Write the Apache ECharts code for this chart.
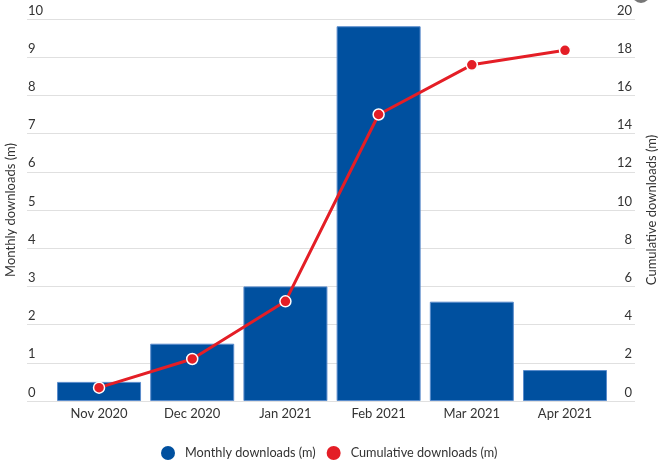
<!DOCTYPE html>
<html>
<head>
<meta charset="utf-8">
<script src="https://cdn.jsdelivr.net/npm/echarts@6/dist/echarts.min.js"></script>
<style>html,body{margin:0;padding:0;background:#fff}#c{width:671px;height:468px}</style>
</head>
<body>
<div id="c"></div>
<script>
const categories = ['Nov 2020', 'Dec 2020', 'Jan 2021', 'Feb 2021', 'Mar 2021', 'Apr 2021'];
const monthly = [0.5, 1.5, 3.0, 9.81, 2.6, 0.81];
const cumulative = [0.7, 2.2, 5.22, 15.0, 17.6, 18.36];
const leftTicks = [0, 1, 2, 3, 4, 5, 6, 7, 8, 9, 10];
const rightTicks = [0, 2, 4, 6, 8, 10, 12, 14, 16, 18, 20];

const chart = echarts.init(document.getElementById('c'), null, {renderer: 'canvas'});
const font = 'Lato, "Open Sans", sans-serif';
const idx = categories.map((_, i) => i);
chart.setOption({
  animation: false,
  textStyle: {fontFamily: font},
  grid: {left: 27, right: 36, top: 19, bottom: 67, containLabel: false, outerBoundsMode: 'none'},
  legend: {
    left: 156, bottom: 3, icon: 'circle', itemWidth: 14, itemHeight: 14, itemGap: 11,
    itemStyle: {borderWidth: 0},
    textStyle: {fontFamily: font, fontSize: 12.7, color: '#333', padding: [0, 0, 0, 5]},
    data: ['Monthly downloads (m)', 'Cumulative downloads (m)']
  },
  graphic: [{type: 'circle', shape: {cx: 641, cy: -6, r: 9}, style: {fill: '#777'}}],
  xAxis: {
    type: 'value', min: -0.773, max: 5.751,
    axisLine: {show: false}, axisTick: {show: false}, splitLine: {show: false},
    axisLabel: {
      customValues: idx, margin: 6, fontSize: 13, color: '#333', fontFamily: font,
      formatter: v => categories[Math.round(v)]
    }
  },
  yAxis: [{
    type: 'value', min: 0, max: 10, interval: 1,
    name: 'Monthly downloads (m)', nameLocation: 'middle', nameGap: 8,
    nameTextStyle: {fontSize: 13, color: '#333', fontFamily: font},
    axisLine: {show: false}, axisTick: {show: false},
    axisLabel: {inside: true, margin: 1, verticalAlign: 'bottom', padding: [0, 0, 2, 0], fontSize: 13, color: '#333', fontFamily: font,
      formatter: v => leftTicks.includes(v) ? String(v) : ''},
    splitLine: {lineStyle: {color: '#e0e0e0', width: 1}}
  }, {
    type: 'value', min: 0, max: 20, interval: 2, position: 'right',
    name: 'Cumulative downloads (m)', nameLocation: 'middle', nameGap: 10,
    nameTextStyle: {fontSize: 13, color: '#333', fontFamily: font},
    axisLine: {show: false}, axisTick: {show: false},
    axisLabel: {inside: true, margin: 3, verticalAlign: 'bottom', padding: [0, 0, 2, 0], fontSize: 13, color: '#333', fontFamily: font,
      formatter: v => rightTicks.includes(v) ? String(v) : ''},
    splitLine: {show: false}
  }],
  series: [{
    name: 'Monthly downloads (m)', type: 'bar', yAxisIndex: 0, barWidth: 84,
    itemStyle: {color: '#00509f', borderColor: '#5a8ccc', borderWidth: 1},
    data: monthly.map((v, i) => [i, v]), z: 2
  }, {
    name: 'Cumulative downloads (m)', type: 'line', yAxisIndex: 1,
    symbol: 'circle', symbolSize: 11,
    lineStyle: {color: '#e41e26', width: 3},
    itemStyle: {color: '#e41e26', borderColor: '#fff', borderWidth: 1.5},
    data: cumulative.map((v, i) => [i, v]), z: 3
  }]
});
</script>
</body>
</html>
